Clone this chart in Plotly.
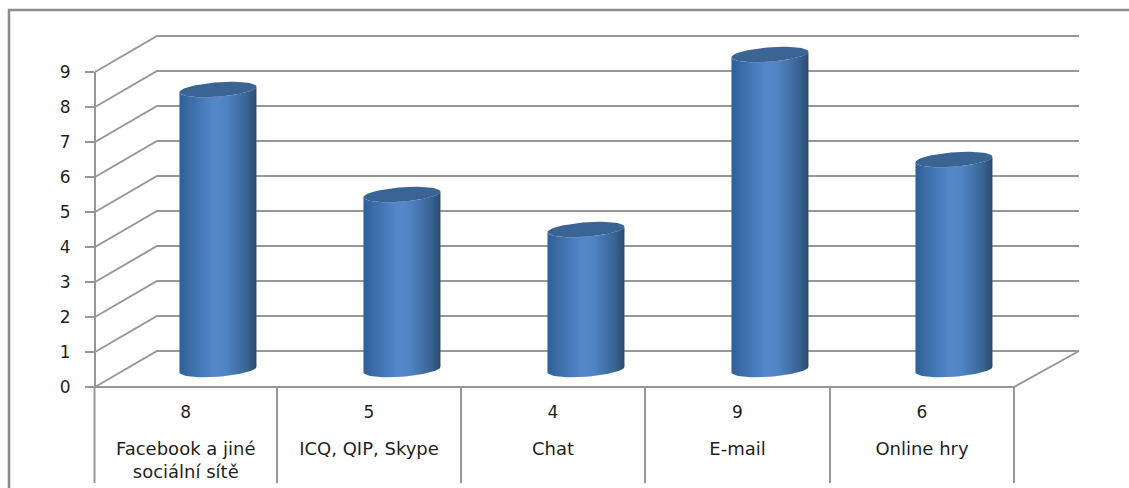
import numpy as np
import plotly.graph_objects as go

categories = ["Facebook a jiné<br>sociální sítě", "ICQ, QIP, Skype", "Chat", "E-mail", "Online hry"]
values = [8, 5, 4, 9, 6]
y_ticks = [0, 1, 2, 3, 4, 5, 6, 7, 8, 9]
divider_px = [94.5, 277, 461, 645, 830, 1014]

W, H = 1129, 488
X0, X1 = 95, 1014        # floor front edge, px
Y0, Y9 = 387, 72         # value 0 and 9 on the front axis, px
BX0, BX1 = 157, 1079     # back wall left and right, px
DY = 36                  # depth rise of the back wall, px
CAT = (X1 - X0) / len(values)
UNIT = (Y0 - Y9) / 9
GRID = "#979797"
TEXT = "#1f1f1f"
FONT = "DejaVu Sans"

px = lambda x: (x - X0) / CAT
py = lambda y: (Y0 - y) / UNIT

fig = go.Figure()

def line(xs, ys, width=2, color=GRID):
    fig.add_trace(go.Scatter(x=xs, y=ys, mode="lines", hoverinfo="skip",
                             line=dict(color=color, width=width), showlegend=False))

# outer frame
line([px(W), px(9), px(9)], [py(10), py(10), py(H)], 2.5, "#8c8c8c")

# back wall and side wall grid
for v in y_ticks:
    line([0, px(BX0), px(BX1)], [v, v + DY / UNIT, v + DY / UNIT])
# floor
line([0, px(X1), px(BX1)], [0, 0, DY / UNIT])
# dividers under the floor
for d in divider_px:
    line([px(d), px(d)], [0, py(483)])

# cylinders
HALF_W = 38.5 / CAT
CX_OFF = 0.669
A_TILT = 2.8 / UNIT
B = 7.2 / UNIT
BASE = 17.5 / UNIT       # centre of the base ellipse above the front floor edge
t = np.linspace(0, 2 * np.pi, 73)
tl = np.linspace(0, np.pi, 37)

def ell(level, tt):
    return level + A_TILT * np.cos(tt) - B * np.sin(tt)

for i, v in enumerate(values):
    cx = i * 184 / CAT + CX_OFF
    xe = cx + HALF_W * np.cos(t)
    xl = cx + HALF_W * np.cos(tl)
    body_x = np.concatenate([xl, xl[::-1]])
    body_y = np.concatenate([ell(BASE, tl), ell(BASE - 0.0 + v, tl)[::-1]])
    fig.add_trace(go.Scatter(
        x=body_x, y=body_y, mode="lines", fill="toself", hoverinfo="skip",
        line=dict(width=0), showlegend=False,
        fillgradient=dict(type="horizontal", start=cx - HALF_W, stop=cx + HALF_W,
                          colorscale=[[0, "#2f5f98"], [0.18, "#3f70ae"], [0.45, "#5488ca"],
                                      [0.6, "#5084c4"], [0.88, "#3a6391"], [1, "#2b4a70"]])))
    fig.add_trace(go.Scatter(
        x=xe, y=ell(BASE + v, t), mode="lines", fill="toself", hoverinfo="skip",
        fillcolor="#3a6494", line=dict(width=0), showlegend=False))

label_x = [(divider_px[i] + divider_px[i + 1]) / 2 for i in range(len(values))]

# value row of the data table
fig.add_trace(go.Scatter(
    x=[px(a) for a in label_x], y=[py(413.5)] * len(values),
    text=[str(v) for v in values], mode="text", hoverinfo="skip",
    textfont=dict(family=FONT, size=17, color=TEXT), showlegend=False))

# invisible carrier for the visible value axis
fig.add_trace(go.Scatter(
    x=[i + CX_OFF for i in range(len(values))], y=values, yaxis="y2", mode="markers",
    marker=dict(opacity=0), hoverinfo="skip", showlegend=False))

fig.update_layout(
    width=W, height=H, autosize=False,
    margin=dict(l=0, r=0, t=0, b=0, pad=0),
    paper_bgcolor="white", plot_bgcolor="rgba(0,0,0,0)",
    font=dict(family=FONT, size=17, color=TEXT),
    xaxis=dict(range=[px(0), px(W)], domain=[0, 1], anchor="free", position=(H - Y0) / H,
               tickmode="array", tickvals=[px(a) for a in label_x], ticktext=categories,
               ticks="outside", ticklen=45, tickcolor="rgba(0,0,0,0)", showgrid=False,
               showline=False, zeroline=False, automargin=False,
               tickfont=dict(family=FONT, size=18, color=TEXT)),
    yaxis=dict(range=[py(H), py(0)], domain=[0, 1], visible=False, showgrid=False, zeroline=False),
    yaxis2=dict(range=[0, 9], domain=[(H - Y0) / H, (H - Y9) / H], anchor="free", position=X0 / W,
                tickmode="array", tickvals=y_ticks, ticks="outside", ticklen=9,
                tickwidth=2, tickcolor=GRID, showline=True, linecolor=GRID, linewidth=2,
                showgrid=False, zeroline=False, ticklabelstandoff=11, automargin=False,
                tickfont=dict(family=FONT, size=17, color=TEXT)),
)
fig.write_html("out.html", config=dict(displayModeBar=False),
               post_script="document.body.style.margin='0';document.body.style.overflow='hidden';")
